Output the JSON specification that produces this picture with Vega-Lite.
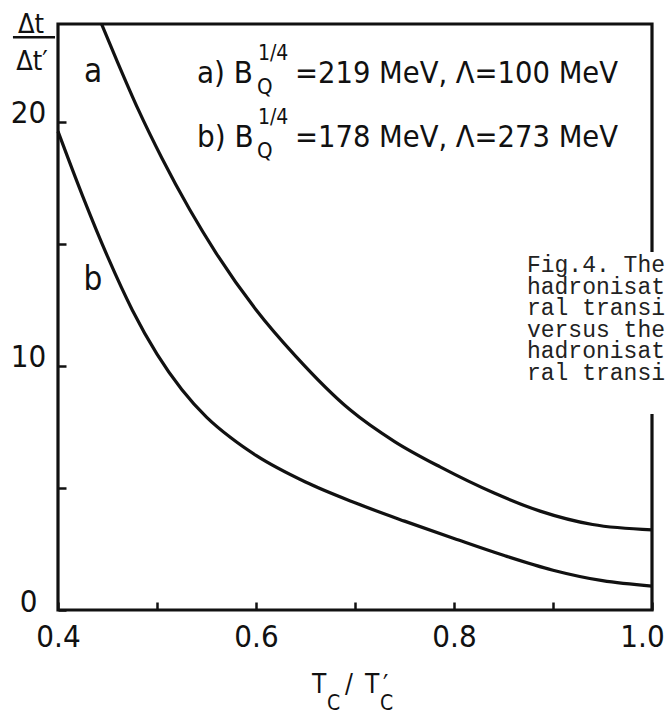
{
  "$schema": "https://vega.github.io/schema/vega-lite/v6.json",
  "width": 594,
  "height": 586,
  "autosize": {"type": "none"},
  "padding": {"left": 58, "top": 24, "right": 13, "bottom": 108},
  "background": "white",
  "config": {
    "view": {"stroke": "#111", "strokeWidth": 3.2},
    "font": "DejaVu Sans Condensed, sans-serif",
    "text": {"color": "#111", "font": "DejaVu Sans Condensed, sans-serif"}
  },
  "data": {"values": [{}]},
  "datasets": {
    "curves": [
      {"curve": "a", "T": 0.444, "ratio": 24.0},
      {"curve": "a", "T": 0.46, "ratio": 22.45},
      {"curve": "a", "T": 0.481, "ratio": 20.5},
      {"curve": "a", "T": 0.505, "ratio": 18.5},
      {"curve": "a", "T": 0.533, "ratio": 16.4},
      {"curve": "a", "T": 0.56, "ratio": 14.6},
      {"curve": "a", "T": 0.60, "ratio": 12.3},
      {"curve": "a", "T": 0.64, "ratio": 10.4},
      {"curve": "a", "T": 0.695, "ratio": 8.2},
      {"curve": "a", "T": 0.74, "ratio": 6.9},
      {"curve": "a", "T": 0.786, "ratio": 5.86},
      {"curve": "a", "T": 0.84, "ratio": 4.8},
      {"curve": "a", "T": 0.887, "ratio": 4.05},
      {"curve": "a", "T": 0.94, "ratio": 3.5},
      {"curve": "a", "T": 1.0, "ratio": 3.28},
      {"curve": "b", "T": 0.40, "ratio": 19.6},
      {"curve": "b", "T": 0.425, "ratio": 16.94},
      {"curve": "b", "T": 0.45, "ratio": 14.48},
      {"curve": "b", "T": 0.475, "ratio": 12.29},
      {"curve": "b", "T": 0.50, "ratio": 10.48},
      {"curve": "b", "T": 0.525, "ratio": 9.03},
      {"curve": "b", "T": 0.55, "ratio": 7.9},
      {"curve": "b", "T": 0.575, "ratio": 7.04},
      {"curve": "b", "T": 0.60, "ratio": 6.33},
      {"curve": "b", "T": 0.65, "ratio": 5.24},
      {"curve": "b", "T": 0.70, "ratio": 4.39},
      {"curve": "b", "T": 0.75, "ratio": 3.64},
      {"curve": "b", "T": 0.80, "ratio": 2.93},
      {"curve": "b", "T": 0.85, "ratio": 2.24},
      {"curve": "b", "T": 0.90, "ratio": 1.63},
      {"curve": "b", "T": 0.95, "ratio": 1.2},
      {"curve": "b", "T": 1.0, "ratio": 0.98}
    ]
  },
  "layer": [
    {
      "data": {"name": "curves"},
      "mark": {"type": "line", "interpolate": "monotone", "strokeWidth": 3.2, "color": "#111"},
      "encoding": {
        "x": {
          "field": "T", "type": "quantitative",
          "scale": {"domain": [0.4, 1.0], "nice": false, "zero": false},
          "axis": {
            "values": [0.4, 0.5, 0.6, 0.7, 0.8, 0.9, 1.0],
            "title": null, "domain": false, "grid": false,
            "tickSize": -8, "tickWidth": 2.5, "tickColor": "#111",
            "labelExpr": "round(datum.value*10) % 2 === 0 ? format(datum.value, '.1f') : ''",
            "labelFont": "DejaVu Sans Condensed, sans-serif",
            "labelFontSize": 31, "labelColor": "#111",
            "labelPadding": 20, "labelFlush": false, "labelOverlap": false, "labelBound": false,
            "labelOffset": {"condition": {"test": "datum.value > 0.95", "value": -10}, "value": 0}
          }
        },
        "y": {
          "field": "ratio", "type": "quantitative",
          "scale": {"domain": [0, 24], "nice": false},
          "axis": {
            "values": [0, 5, 10, 15, 20],
            "title": null, "domain": false, "grid": false,
            "tickSize": -8, "tickWidth": 2.5, "tickColor": "#111",
            "labelExpr": "datum.value % 10 === 0 ? datum.label : ''",
            "labelFont": "DejaVu Sans Condensed, sans-serif",
            "labelFontSize": 31, "labelColor": "#111",
            "labelAlign": "center", "labelPadding": 38, "labelOffset": -8,
            "labelFlush": false, "labelOverlap": false, "labelBound": false
          }
        },
        "detail": {"field": "curve"}
      }
    },
    {
      "mark": {"type": "rect", "fill": "white", "stroke": null},
      "encoding": {
        "x": {"datum": 0.8667}, "x2": {"datum": 1.03},
        "y": {"datum": 14.66}, "y2": {"datum": 8.03}
      }
    },
    {
      "mark": {"type": "text", "align": "left", "baseline": "alphabetic", "font": "Liberation Mono", "fontSize": 23, "lineHeight": 21.6, "color": "#222",
        "text": ["Fig.4. The", "hadronisat", "ral transi", "versus the", "hadronisat", "ral transi"]},
      "encoding": {"x": {"datum": 0.8737}, "y": {"datum": 13.84}}
    },
    {"mark": {"type": "text", "text": "a", "align": "center", "baseline": "alphabetic", "fontSize": 33}, "encoding": {"x": {"datum": 0.4354}, "y": {"datum": 21.62}}},
    {"mark": {"type": "text", "text": "b", "align": "center", "baseline": "alphabetic", "fontSize": 33}, "encoding": {"x": {"datum": 0.4354}, "y": {"datum": 13.1}}},
    {"mark": {"type": "text", "text": "a) B", "align": "left", "baseline": "alphabetic", "fontSize": 31}, "encoding": {"x": {"datum": 0.5404}, "y": {"datum": 21.58}}},
    {"mark": {"type": "text", "text": "1/4", "align": "left", "baseline": "alphabetic", "fontSize": 21}, "encoding": {"x": {"datum": 0.602}, "y": {"datum": 22.52}}},
    {"mark": {"type": "text", "text": "Q", "align": "left", "baseline": "alphabetic", "fontSize": 22}, "encoding": {"x": {"datum": 0.601}, "y": {"datum": 21.15}}},
    {"mark": {"type": "text", "text": "=219 MeV, Λ=100 MeV", "align": "left", "baseline": "alphabetic", "fontSize": 30.5}, "encoding": {"x": {"datum": 0.6394}, "y": {"datum": 21.58}}},
    {"mark": {"type": "text", "text": "b) B", "align": "left", "baseline": "alphabetic", "fontSize": 31}, "encoding": {"x": {"datum": 0.5404}, "y": {"datum": 18.96}}},
    {"mark": {"type": "text", "text": "1/4", "align": "left", "baseline": "alphabetic", "fontSize": 21}, "encoding": {"x": {"datum": 0.602}, "y": {"datum": 19.9}}},
    {"mark": {"type": "text", "text": "Q", "align": "left", "baseline": "alphabetic", "fontSize": 22}, "encoding": {"x": {"datum": 0.601}, "y": {"datum": 18.53}}},
    {"mark": {"type": "text", "text": "=178 MeV, Λ=273 MeV", "align": "left", "baseline": "alphabetic", "fontSize": 30.5}, "encoding": {"x": {"datum": 0.6394}, "y": {"datum": 18.96}}},
    {"mark": {"type": "text", "text": "Δt", "align": "center", "baseline": "alphabetic", "fontSize": 27}, "encoding": {"x": {"datum": 0.3727}, "y": {"datum": 23.63}}},
    {"mark": {"type": "rule", "strokeWidth": 2.5, "color": "#111"}, "encoding": {"x": {"datum": 0.3545}, "x2": {"datum": 0.397}, "y": {"datum": 23.46}}},
    {"mark": {"type": "text", "text": "Δt′", "align": "center", "baseline": "alphabetic", "fontSize": 27}, "encoding": {"x": {"datum": 0.3737}, "y": {"datum": 22.11}}},
    {"mark": {"type": "text", "text": "T", "align": "left", "baseline": "alphabetic", "fontSize": 26}, "encoding": {"x": {"datum": 0.6566}, "y": {"datum": -3.4}}},
    {"mark": {"type": "text", "text": "C", "align": "left", "baseline": "alphabetic", "fontSize": 21}, "encoding": {"x": {"datum": 0.6717}, "y": {"datum": -4.1}}},
    {"mark": {"type": "text", "text": "/", "align": "left", "baseline": "alphabetic", "fontSize": 26}, "encoding": {"x": {"datum": 0.69}, "y": {"datum": -3.4}}},
    {"mark": {"type": "text", "text": "T", "align": "left", "baseline": "alphabetic", "fontSize": 26}, "encoding": {"x": {"datum": 0.7101}, "y": {"datum": -3.4}}},
    {"mark": {"type": "text", "text": "C", "align": "left", "baseline": "alphabetic", "fontSize": 21}, "encoding": {"x": {"datum": 0.7253}, "y": {"datum": -4.1}}},
    {"mark": {"type": "text", "text": "′", "align": "left", "baseline": "alphabetic", "fontSize": 26}, "encoding": {"x": {"datum": 0.7283}, "y": {"datum": -3.45}}}
  ]
}
